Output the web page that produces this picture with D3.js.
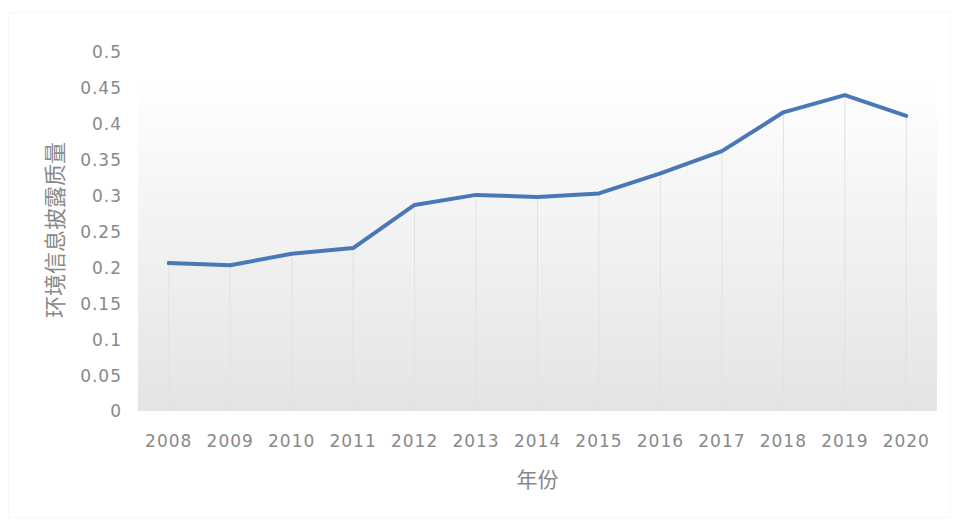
<!DOCTYPE html>
<html>
<head>
<meta charset="utf-8">
<script src="https://cdn.jsdelivr.net/npm/d3@7"></script>
<style>
  body { margin: 0; background: #fff; }
  text { font-family: "Microsoft YaHei", "Noto Sans CJK SC", "DejaVu Sans", sans-serif; }
  .num text { font-family: "DejaVu Sans", Verdana, sans-serif; }
</style>
</head>
<body>
<svg id="chart" width="959" height="525"></svg>
<script>
// data
const years = ['2008', '2009', '2010', '2011', '2012', '2013', '2014', '2015', '2016', '2017', '2018', '2019', '2020'];
const quality = [0.206, 0.203, 0.219, 0.227, 0.287, 0.301, 0.298, 0.303, 0.331, 0.362, 0.416, 0.440, 0.411];
const yTicks = [0, 0.05, 0.1, 0.15, 0.2, 0.25, 0.3, 0.35, 0.4, 0.45, 0.5];
const xTitle = '年份';
const yTitle = '环境信息披露质量';

const svg = d3.select('#chart');

// plot box
const plotLeft = 138, plotRight = 937, plotTop = 52, plotBottom = 411, wallTop = 73;

const x = d3.scaleBand().domain(years).range([plotLeft, plotRight]);
const y = d3.scaleLinear().domain([0, 0.5]).range([plotBottom, plotTop]);

// faint outer border
svg.append('rect')
  .attr('x', 8.5).attr('y', 12.5)
  .attr('width', 942).attr('height', 505)
  .attr('fill', 'none')
  .attr('stroke', '#f7f7f7');

// gradient wall
const defs = svg.append('defs');
const grad = defs.append('linearGradient')
  .attr('id', 'wall')
  .attr('x1', 0).attr('y1', 0).attr('x2', 0).attr('y2', 1);
grad.append('stop').attr('offset', '0%').attr('stop-color', '#ffffff');
grad.append('stop').attr('offset', '100%').attr('stop-color', '#e4e4e4');

svg.append('rect')
  .attr('x', plotLeft).attr('y', wallTop)
  .attr('width', plotRight - plotLeft).attr('height', plotBottom - wallTop)
  .attr('fill', 'url(#wall)');

const cx = (d) => x(d) + x.bandwidth() / 2;

// drop lines
svg.append('g')
  .selectAll('line')
  .data(years)
  .join('line')
  .attr('x1', cx).attr('x2', cx)
  .attr('y1', (d, i) => y(quality[i]))
  .attr('y2', plotBottom)
  .attr('stroke', '#e2e2e2')
  .attr('stroke-width', 1);

// y axis labels
const yAxis = d3.axisLeft(y)
  .tickValues(yTicks)
  .tickSize(0)
  .tickPadding(0)
  .tickFormat((d) => String(+d.toFixed(2)));

svg.append('g')
  .attr('class', 'num')
  .attr('transform', `translate(${plotLeft - 16},0)`)
  .call(yAxis)
  .call((g) => g.select('.domain').remove())
  .selectAll('text')
  .attr('fill', '#898989')
  .attr('font-size', 17)
  .attr('dy', '0.35em')
  .style('letter-spacing', '1px');

// x axis labels
const xAxis = d3.axisBottom(x).tickSize(0).tickPadding(0);
svg.append('g')
  .attr('class', 'num')
  .attr('transform', `translate(0,${plotBottom + 30})`)
  .call(xAxis)
  .call((g) => g.select('.domain').remove())
  .selectAll('text')
  .attr('fill', '#898989')
  .attr('font-size', 17)
  .attr('dy', '0.35em')
  .style('letter-spacing', '1px');

// line
const line = d3.line()
  .x((d, i) => cx(years[i]))
  .y((d) => y(d));

svg.append('path')
  .datum(quality)
  .attr('d', line)
  .attr('fill', 'none')
  .attr('stroke', '#4a78b6')
  .attr('stroke-width', 4)
  .attr('stroke-linejoin', 'round')
  .attr('stroke-linecap', 'round');

// titles
svg.append('text')
  .attr('x', (plotLeft + plotRight) / 2)
  .attr('y', 480)
  .attr('text-anchor', 'middle')
  .attr('dy', '0.35em')
  .attr('fill', '#898989')
  .attr('font-size', 21)
  .text(xTitle);

svg.append('text')
  .attr('transform', `translate(55,230) rotate(-90)`)
  .attr('text-anchor', 'middle')
  .attr('dy', '0.35em')
  .attr('fill', '#898989')
  .attr('font-size', 22)
  .text(yTitle);
</script>
</body>
</html>
